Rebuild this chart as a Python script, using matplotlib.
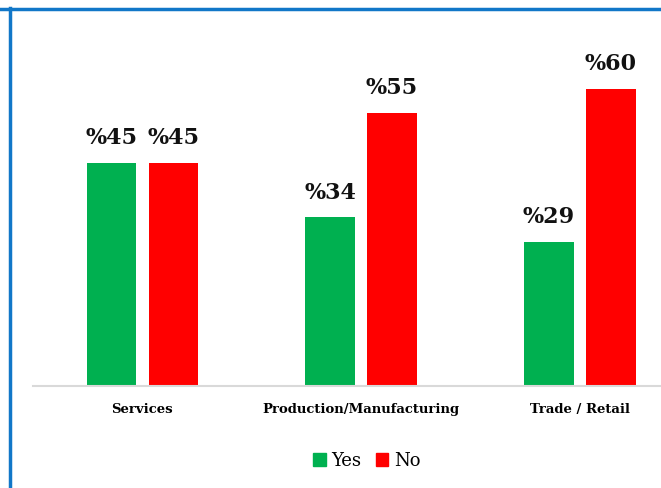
import matplotlib.pyplot as plt
from matplotlib.lines import Line2D
from matplotlib.patches import Patch
import numpy as np

categories = ["Services", "Production/Manufacturing", "Trade / Retail"]
yes_vals = [45, 34, 29]
no_vals = [45, 55, 60]

green = "#00B050"
red = "#FF0000"
serif = "DejaVu Serif"

fig = plt.figure(figsize=(6.61, 4.88), dpi=100)
W, H = 661, 488
ax = fig.add_axes([33 / W, 1 - 386 / H, 1 - 33 / W, (386 - 39) / H])

x = np.arange(len(categories))
w = 0.224
off = 0.1416
b1 = ax.bar(x - off, yes_vals, w, color=green, label="Yes")
b2 = ax.bar(x + off, no_vals, w, color=red, label="No")

for bars, vals in [(b1, yes_vals), (b2, no_vals)]:
    for b, v in zip(bars, vals):
        ax.annotate("%" + str(v), (b.get_x() + b.get_width() / 2, v),
                    xytext=(0, 10), textcoords="offset points",
                    ha="center", va="bottom", fontsize=16,
                    fontweight="bold", family=serif, color="#111111")

ax.set_xlim(-0.498, 2.37)
ax.set_ylim(0, 70)
ax.set_xticks(x)
ax.set_xticklabels(categories, fontsize=9.5, fontweight="bold", family=serif)
ax.tick_params(axis="x", length=0, pad=12)
ax.set_yticks([])
for s in ["top", "right", "left"]:
    ax.spines[s].set_visible(False)
ax.spines["bottom"].set_color("#D9D9D9")
ax.spines["bottom"].set_linewidth(1.5)

handles = [Patch(color=green), Patch(color=red)]
fig.legend(handles, ["Yes", "No"], loc="center", bbox_to_anchor=(0.555, 1 - 461 / H),
           ncol=2, frameon=False, prop={"family": serif, "size": 13},
           handlelength=0.7, handleheight=0.7, handletextpad=0.3, columnspacing=0.8)

# blue frame lines along top and left
fig.add_artist(Line2D([0, 1], [1 - 9 / H, 1 - 9 / H], color="#1177C8", lw=2.5,
                      transform=fig.transFigure))
fig.add_artist(Line2D([10 / W, 10 / W], [0, 1 - 8 / H], color="#1177C8", lw=2.5,
                      transform=fig.transFigure))

fig.savefig("out.png", dpi=100)
